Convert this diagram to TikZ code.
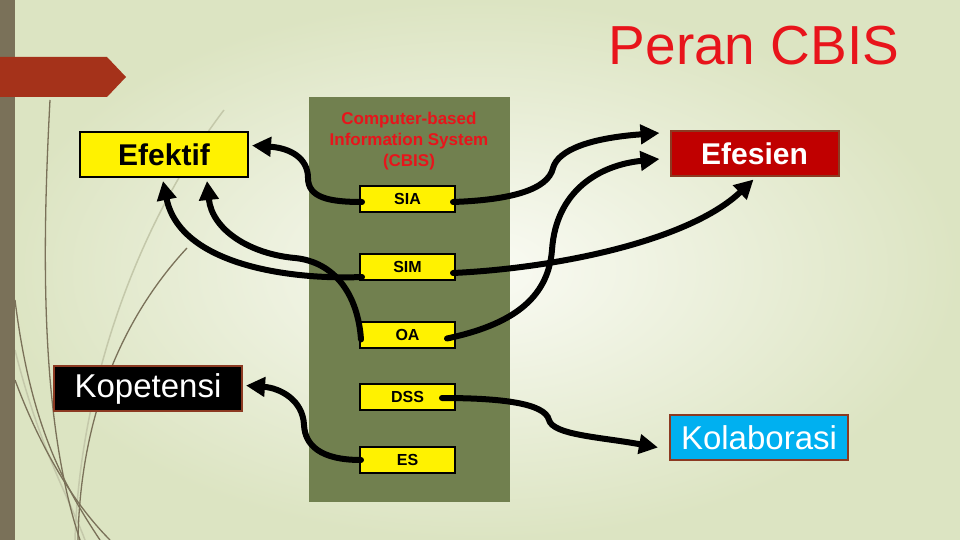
\documentclass[tikz,border=0pt]{standalone}
\usepackage{fontspec}
\setmainfont{Liberation Sans}
\usetikzlibrary{arrows.meta,calc}
\definecolor{bgin}{RGB}{250,251,244}
\definecolor{bgout}{RGB}{220,228,194}
\definecolor{barcol}{RGB}{122,113,89}
\definecolor{lightline}{RGB}{196,200,170}
\definecolor{bannercol}{RGB}{165,50,26}
\definecolor{panelcol}{RGB}{113,128,79}
\definecolor{brownedge}{RGB}{140,58,34}
\definecolor{effred}{RGB}{192,0,0}
\definecolor{kolblue}{RGB}{0,176,240}
\definecolor{titlered}{RGB}{232,20,27}
\begin{document}
\begin{tikzpicture}[x=1pt,y=-1pt,
  bigbox/.style={draw, line width=2pt, inner sep=0pt, minimum height=45pt},
  smallbox/.style={draw=black, line width=2pt, fill=yellow, inner sep=0pt,
    minimum width=95pt, minimum height=26pt, font=\bfseries\fontsize{16}{18}\selectfont},
  conn/.style={line width=6pt, line cap=round, -{Triangle[length=19pt,width=19pt]}},
  deco/.style={line width=1.3pt, barcol},
  decolight/.style={line width=1.5pt, lightline}]
\useasboundingbox (0,0) rectangle (960,540);
% background
\shade[inner color=bgin, outer color=bgout] (0,0) rectangle (960,540);
% decorative curves
\draw[decolight] (224,110) .. controls (140,220) and (80,380) .. (75,540);
\draw[decolight] (15,350) .. controls (40,450) and (70,500) .. (85,540);
\draw[deco] (50,100) .. controls (42,250) and (40,420) .. (80,540);
\draw[deco] (15,300) .. controls (30,420) and (60,480) .. (100,540);
\draw[deco] (187,248) .. controls (120,320) and (80,420) .. (78,540);
\draw[deco] (15,380) .. controls (45,460) and (80,510) .. (110,540);
% left bar and banner
\fill[barcol] (0,0) rectangle (15,540);
\fill[bannercol] (0,57) -- (107,57) -- (126,77) -- (107,97) -- (0,97) -- cycle;
% title
\node[titlered, anchor=base, font=\fontsize{55}{60}\selectfont] (title) at (754,65) {Peran CBIS};
% green panel
\fill[panelcol] (309,97) rectangle (510,502);
\node[titlered, align=center, font=\bfseries\fontsize{17}{21}\selectfont] (cbis) at (409,141)
  {Computer-based\\Information System\\(CBIS)};
% small boxes
\node[smallbox] (sia) at (407.5,199) {SIA};
\node[smallbox] (sim) at (407.5,267) {SIM};
\node[smallbox] (oa) at (407.5,334.5) {OA};
\node[smallbox] (dss) at (407.5,397) {DSS};
\node[smallbox] (es) at (407.5,460) {ES};
% outer boxes
\node[bigbox, fill=yellow, draw=black, minimum width=168pt,
  font=\bfseries\fontsize{30}{32}\selectfont] (efektif) at (164,154.5) {Efektif};
\node[bigbox, fill=black, draw=brownedge, minimum width=188pt, text=white,
  font=\fontsize{33}{35}\selectfont] (kop) at (148,388.5) {Kopetensi};
\node[bigbox, fill=effred, draw=brownedge, minimum width=168pt, text=white,
  font=\bfseries\fontsize{30}{32}\selectfont] (efesien) at (754.5,154) {Efesien};
\node[bigbox, fill=kolblue, draw=brownedge, minimum width=178pt, text=white,
  font=\fontsize{33}{35}\selectfont] (kolab) at (759,437.5) {Kolaborasi};
% connectors
\draw[conn] ($(sia.west)+(3,3)$) .. controls (330,202) and (308,198) .. (308,178)
  .. controls (308,158) and (290,148) .. ($(efektif.east)+(3,-9)$);
\draw[conn] ($(sia.east)+(-3,3)$) .. controls (510,200) and (548,190) .. (553,168)
  .. controls (558,150) and (590,138) .. ($(efesien.west)+(-10,-21)$);
\draw[conn] ($(sim.west)+(3,10)$) .. controls (290,280) and (180,265) .. ($(efektif.south)+(-1,3)$);
\draw[conn] ($(oa.west)+(2,5)$) .. controls (358,295) and (335,262) .. (295,258)
  .. controls (250,254) and (212,230) .. ($(efektif.south)+(43,3)$);
\draw[conn] ($(sim.east)+(-3,6)$) .. controls (560,268) and (690,240) .. ($(efesien.south)+(-1,2)$);
\draw[conn] ($(oa.east)+(-9,4)$) .. controls (510,325) and (548,300) .. (552,250)
  .. controls (556,190) and (600,165) .. ($(efesien.west)+(-10,5)$);
\draw[conn] ($(es.west)+(2,0)$) .. controls (320,460) and (305,445) .. (304,425)
  .. controls (303,400) and (280,388) .. ($(kop.east)+(3,-3)$);
\draw[conn] ($(dss.east)+(-14,1)$) .. controls (500,398) and (545,403) .. (549,420)
  .. controls (553,435) and (600,437) .. ($(kolab.west)+(-11,10)$);
\end{tikzpicture}
\end{document}
